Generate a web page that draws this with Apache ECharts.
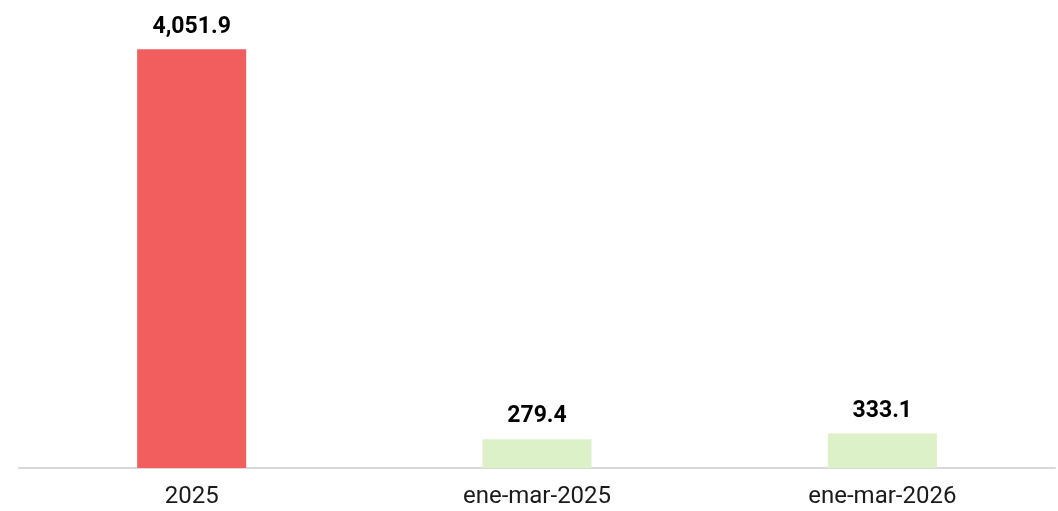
<!DOCTYPE html>
<html>
<head>
<meta charset="utf-8">
<script src="https://cdn.jsdelivr.net/npm/echarts@6/dist/echarts.min.js"></script>
<style>
html, body { margin: 0; padding: 0; background: #fff; }
#chart { width: 1058px; height: 511px; }
</style>
</head>
<body>
<div id="chart"></div>
<script>
// datos
var categories = ['2025', 'ene-mar-2025', 'ene-mar-2026'];
var values = [4051.9, 279.4, 333.1];
var colors = ['#F25D5E', '#DDF1C9', '#DDF1C9'];

var myChart = echarts.init(document.getElementById('chart'));
var option = {
	animation : false,
	grid : {
		left : 19,
		right : 3,
		top : 3,
		bottom : 43
	},
	xAxis : {
		type : 'category',
		data : categories,
		axisLine : { lineStyle : { color : '#d9d9d9', width : 2 } },
		axisTick : { show : false },
		axisLabel : {
			color : '#1a1a1a',
			fontFamily : 'Roboto',
			fontSize : 24,
			margin : 17
		}
	},
	yAxis : {
		type : 'value',
		min : 0,
		max : 4500,
		show : false
	},
	series : [ {
		type : 'bar',
		barWidth : 109,
		data : values.map(function(v, i) {
			return { value : v, itemStyle : { color : colors[i] } };
		}),
		label : {
			show : true,
			position : 'top',
			distance : 11,
			color : '#000',
			fontFamily : 'Roboto',
			fontWeight : 'bold',
			fontSize : 23,
			formatter : function(p) {
				return p.value.toLocaleString('en-US', { minimumFractionDigits : 1, maximumFractionDigits : 1 });
			}
		}
	} ]
};
myChart.setOption(option);
</script>
</body>
</html>
